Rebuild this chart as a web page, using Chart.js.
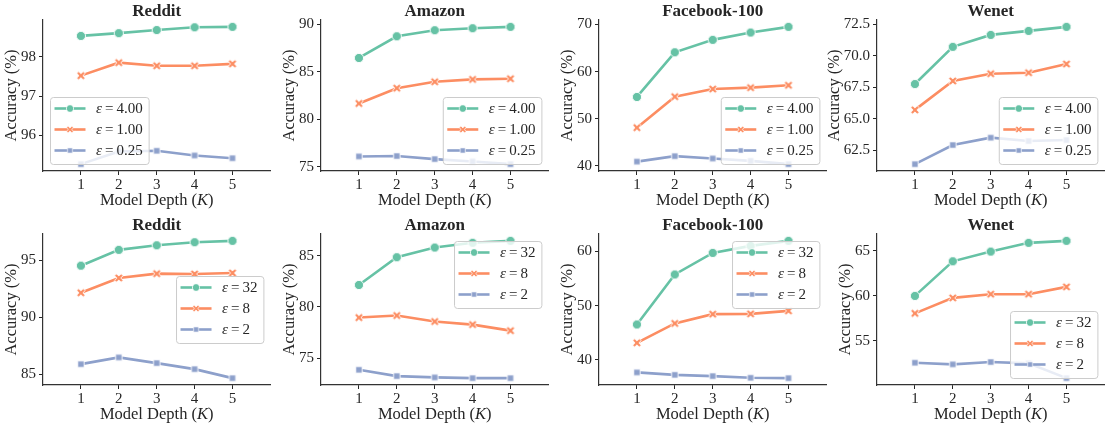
<!DOCTYPE html>
<html>
<head>
<meta charset="utf-8">
<script src="https://cdn.jsdelivr.net/npm/chart.js@4.4.1/dist/chart.umd.min.js"></script>
<style>
  html, body { margin: 0; padding: 0; background: #fff; }
  #wrap { position: relative; width: 1114px; height: 428px; overflow: hidden; }
  #wrap canvas { position: absolute; }
</style>
</head>
<body>
<div id="wrap"></div>
<script>
// ---- data ----
const depths = [1, 2, 3, 4, 5];
const epsTop = ["4.00", "1.00", "0.25"];
const epsBottom = ["32", "8", "2"];

// top row: eps = 4.00 / 1.00 / 0.25
const redditTop = [[98.53, 98.60, 98.68, 98.75, 98.76], [97.52, 97.85, 97.77, 97.77, 97.82], [95.27, 95.59, 95.61, 95.49, 95.42]];
const amazonTop = [[86.45, 88.73, 89.37, 89.58, 89.72], [81.67, 83.28, 83.95, 84.20, 84.27], [76.11, 76.15, 75.83, 75.58, 75.30]];
const facebookTop = [[54.62, 64.10, 66.74, 68.30, 69.50], [48.10, 54.68, 56.30, 56.60, 57.10], [40.90, 42.06, 41.56, 41.06, 40.36]];
const wenetTop = [[67.76, 70.72, 71.67, 71.99, 72.31], [65.70, 68.00, 68.58, 68.66, 69.35], [61.38, 62.90, 63.49, 63.22, 63.30]];

// bottom row: eps = 32 / 8 / 2
const redditBottom = [[94.53, 95.92, 96.32, 96.59, 96.71], [92.15, 93.45, 93.83, 93.80, 93.89], [85.88, 86.47, 85.97, 85.44, 84.65]];
const amazonBottom = [[82.15, 84.87, 85.82, 86.28, 86.47], [78.96, 79.16, 78.57, 78.27, 77.68], [73.85, 73.23, 73.10, 73.03, 73.03]];
const facebookBottom = [[46.53, 55.76, 59.74, 61.03, 61.96], [43.14, 46.72, 48.43, 48.49, 49.04], [37.68, 37.23, 37.00, 36.68, 36.62]];
const wenetBottom = [[60.00, 63.84, 64.92, 65.89, 66.11], [58.06, 59.78, 60.19, 60.19, 61.00], [52.58, 52.40, 52.66, 52.51, 50.87]];

// y tick labels per panel
const ticksRedditTop = [96, 97, 98];
const ticksAmazonTop = [75, 80, 85, 90];
const ticksFacebookTop = [40, 50, 60, 70];
const ticksWenetTop = [62.5, 65, 67.5, 70, 72.5];
const ticksRedditBottom = [85, 90, 95];
const ticksAmazonBottom = [75, 80, 85];
const ticksFacebookBottom = [40, 50, 60];
const ticksWenetBottom = [55, 60, 65];

// ---- styling ----
const PANEL_W = 278, PANEL_H = 214, BLEED = 16;
const ink = '#262626';
const serif = '"Liberation Serif", "DejaVu Serif", serif';
const palette = ['#66c2a5', '#fc8d62', '#8da0cb'];
const shapes = ['circle', 'x', 'square'];
const TICK_SIZE = 15, LABEL_SIZE = 16.5, TITLE_SIZE = 17, LEGEND_SIZE = 15;

function font(size, weight, italic) {
  return (italic ? 'italic ' : '') + (weight || 'normal') + ' ' + size + 'px ' + serif;
}

function makeMarker(kind, color) {
  const c = document.createElement('canvas');
  c.width = 14; c.height = 14;
  const g = c.getContext('2d');
  g.translate(7, 7);
  g.fillStyle = color;
  g.strokeStyle = '#fff';
  g.lineWidth = 0.9;
  g.beginPath();
  if (kind === 'circle') {
    g.arc(0, 0, 4.6, 0, Math.PI * 2);
  } else if (kind === 'square') {
    g.rect(-3.2, -3.2, 6.4, 6.4);
  } else {
    const w = 1.35, r = 4.6;
    const pts = [[-w, -r], [w, -r], [w, -w], [r, -w], [r, w], [w, w], [w, r], [-w, r], [-w, w], [-r, w], [-r, -w], [-w, -w]];
    const a = Math.PI / 4;
    pts.forEach(([px, py], i) => {
      const x = px * Math.cos(a) - py * Math.sin(a);
      const y = px * Math.sin(a) + py * Math.cos(a);
      if (i === 0) g.moveTo(x, y); else g.lineTo(x, y);
    });
    g.closePath();
  }
  g.fill();
  g.stroke();
  return c;
}
const markers = shapes.map((s, i) => makeMarker(s, palette[i]));

function drawRuns(ctx, runs, x, y, size, weight, align) {
  const widths = runs.map(([t, it]) => { ctx.font = font(size, weight, it); return ctx.measureText(t).width; });
  const total = widths.reduce((a, b) => a + b, 0);
  let cx = align === 'center' ? x - total / 2 : x;
  ctx.textAlign = 'left';
  ctx.textBaseline = 'middle';
  runs.forEach(([t, it], i) => {
    ctx.font = font(size, weight, it);
    ctx.fillText(t, cx, y);
    cx += widths[i];
  });
  return total;
}

function runsWidth(ctx, runs, size) {
  return runs.reduce((s, [t, it]) => { ctx.font = font(size, 'normal', it); return s + ctx.measureText(t).width; }, 0);
}

const decor = {
  id: 'decor',
  afterDraw(chart, args, opts) {
    const { ctx, chartArea: a } = chart;
    ctx.save();
    ctx.fillStyle = ink;

    // title
    ctx.font = font(TITLE_SIZE, 'bold');
    ctx.textAlign = 'center';
    ctx.textBaseline = 'middle';
    ctx.fillText(opts.title, (a.left + a.right) / 2, 12);

    // x axis title
    drawRuns(ctx, [['Model Depth (', false], ['K', true], [')', false]], (a.left + a.right) / 2, 201, LABEL_SIZE, 'normal', 'center');

    // y axis title, placed left of the widest tick label
    ctx.font = font(TICK_SIZE);
    const tickW = Math.max(...opts.tickLabels.map(t => ctx.measureText(t).width));
    const yx = a.left - 4 - 3 - tickW - 4 - 5;
    ctx.translate(yx, (a.top + a.bottom) / 2);
    ctx.rotate(-Math.PI / 2);
    drawRuns(ctx, [['Accuracy (%)', false]], 0, 0, LABEL_SIZE, 'normal', 'center');
    ctx.setTransform(1, 0, 0, 1, 0, 0);

    // legend
    const rows = opts.eps.map(e => [['ε', true], ['\u2009=\u2009' + e, false]]);
    const tw = Math.max(...rows.map(r => runsWidth(ctx, r, LEGEND_SIZE)));
    const bw = 46 + tw + 6, bh = 67, pad = 7;
    let bx, by;
    if (opts.loc === 'lower left') { bx = a.left + pad; by = a.bottom - pad - bh; }
    else if (opts.loc === 'lower right') { bx = a.right - pad - bw; by = a.bottom - pad - bh; }
    else if (opts.loc === 'upper right') { bx = a.right - pad - bw; by = a.top + pad; }
    else { bx = a.right - pad - bw; by = (a.top + a.bottom) / 2 - bh / 2; }

    ctx.beginPath();
    ctx.roundRect(bx + 0.5, by + 0.5, bw, bh, 3);
    ctx.fillStyle = 'rgba(255,255,255,0.8)';
    ctx.fill();
    ctx.strokeStyle = '#cccccc';
    ctx.lineWidth = 1;
    ctx.stroke();

    rows.forEach((r, i) => {
      const ry = by + 11.5 + 21 * i;
      ctx.beginPath();
      ctx.moveTo(bx + 4.5, ry);
      ctx.lineTo(bx + 35.5, ry);
      ctx.strokeStyle = palette[i];
      ctx.lineWidth = 2.6;
      ctx.stroke();
      const m = markers[i], s = 0.8;
      ctx.drawImage(m, bx + 20 - m.width * s / 2, ry - m.height * s / 2, m.width * s, m.height * s);
      ctx.fillStyle = ink;
      drawRuns(ctx, r, bx + 46, ry + 0.5, LEGEND_SIZE, 'normal', 'left');
    });
    ctx.restore();
  }
};

const panels = [
  { title: 'Reddit', series: redditTop, eps: epsTop, ticks: ticksRedditTop, loc: 'lower left' },
  { title: 'Amazon', series: amazonTop, eps: epsTop, ticks: ticksAmazonTop, loc: 'lower right' },
  { title: 'Facebook-100', series: facebookTop, eps: epsTop, ticks: ticksFacebookTop, loc: 'lower right' },
  { title: 'Wenet', series: wenetTop, eps: epsTop, ticks: ticksWenetTop, loc: 'lower right' },
  { title: 'Reddit', series: redditBottom, eps: epsBottom, ticks: ticksRedditBottom, loc: 'center right' },
  { title: 'Amazon', series: amazonBottom, eps: epsBottom, ticks: ticksAmazonBottom, loc: 'upper right' },
  { title: 'Facebook-100', series: facebookBottom, eps: epsBottom, ticks: ticksFacebookBottom, loc: 'upper right' },
  { title: 'Wenet', series: wenetBottom, eps: epsBottom, ticks: ticksWenetBottom, loc: 'lower right' }
];

const wrap = document.getElementById('wrap');

panels.forEach((p, idx) => {
  const col = idx % 4, row = Math.floor(idx / 4);
  const canvas = document.createElement('canvas');
  canvas.width = PANEL_W + BLEED;
  canvas.height = PANEL_H;
  canvas.style.left = (col * PANEL_W - BLEED) + 'px';
  canvas.style.top = (row * PANEL_H) + 'px';
  canvas.style.width = (PANEL_W + BLEED) + 'px';
  canvas.style.height = PANEL_H + 'px';
  wrap.appendChild(canvas);

  // matplotlib-style 5% margins around the data
  const all = p.series.flat();
  const lo = Math.min(...all), hi = Math.max(...all);
  const m = (hi - lo) * 0.05;
  const decimals = p.ticks.some(t => !Number.isInteger(t)) ? 1 : 0;
  const tickLabels = p.ticks.map(t => t.toFixed(decimals));

  new Chart(canvas, {
    type: 'line',
    data: {
      datasets: p.series.map((vals, i) => ({
        label: 'ε = ' + p.eps[i],
        data: depths.map((d, j) => ({ x: d, y: vals[j] })),
        borderColor: palette[i],
        backgroundColor: palette[i],
        borderWidth: 2.6,
        pointStyle: markers[i],
        pointRadius: 5,
        pointHoverRadius: 5,
        tension: 0,
        fill: false
      }))
    },
    options: {
      responsive: false,
      animation: false,
      devicePixelRatio: 1,
      events: [],
      layout: { padding: { top: 20, right: 3, left: BLEED, bottom: 0 } },
      plugins: {
        legend: { display: false },
        title: { display: false },
        tooltip: { enabled: false },
        decor: { title: p.title, eps: p.eps, loc: p.loc, tickLabels: tickLabels }
      },
      scales: {
        x: {
          type: 'linear',
          min: 0,
          max: 6,
          afterBuildTicks: s => { s.ticks = depths.map(v => ({ value: v })); },
          afterFit: s => { s.height = 43; },
          grid: { display: true, drawOnChartArea: false, drawTicks: true, tickLength: 4, color: ink, lineWidth: 1 },
          border: { display: true, color: '#333', width: 1.2 },
          ticks: { color: ink, font: { family: serif, size: TICK_SIZE }, padding: 1, maxRotation: 0, callback: v => String(v) }
        },
        y: {
          type: 'linear',
          min: lo - m,
          max: hi + m,
          afterBuildTicks: s => { s.ticks = p.ticks.map(v => ({ value: v })); },
          afterFit: s => { s.width = 43; },
          grid: { display: true, drawOnChartArea: false, drawTicks: true, tickLength: 4, color: ink, lineWidth: 1 },
          border: { display: true, color: '#333', width: 1.2 },
          ticks: { color: ink, font: { family: serif, size: TICK_SIZE }, padding: 3, callback: v => v.toFixed(decimals) }
        }
      }
    },
    plugins: [decor]
  });
});
</script>
</body>
</html>
